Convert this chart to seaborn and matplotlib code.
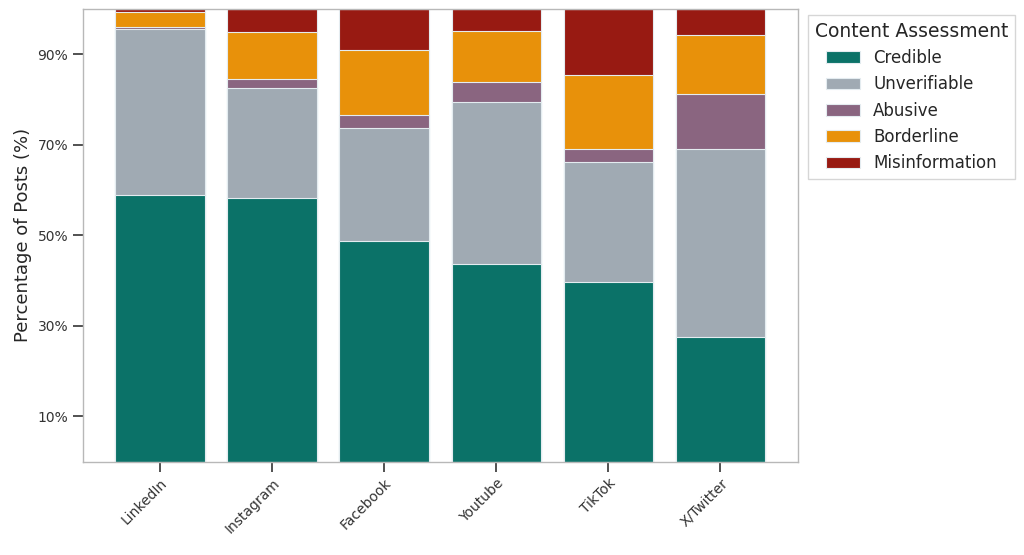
import pandas as pd
import matplotlib
matplotlib.use("Agg")
import matplotlib.pyplot as plt
import seaborn as sns

# values (percent of posts per platform)
platforms = ["LinkedIn", "Instagram", "Facebook", "Youtube", "TikTok", "X/Twitter"]
credible = [58.8, 58.2, 48.8, 43.7, 39.8, 27.5]
unverifiable = [36.8, 24.3, 25.0, 35.7, 26.3, 41.6]
abusive = [0.4, 2.1, 2.8, 4.4, 2.9, 12.1]
borderline = [3.3, 10.4, 14.4, 11.4, 16.5, 13.1]
misinformation = [0.7, 5.0, 9.0, 4.8, 14.5, 5.7]

categories = ["Credible", "Unverifiable", "Abusive", "Borderline", "Misinformation"]
colors = ["#0b7268", "#a0aab3", "#8a6580", "#e8910a", "#981a12"]

df = pd.DataFrame({
    "Platform": platforms,
    "Credible": credible,
    "Unverifiable": unverifiable,
    "Abusive": abusive,
    "Borderline": borderline,
    "Misinformation": misinformation,
})

# cumulative tops for the stacked look
cum = df[categories].cumsum(axis=1)
cum["Platform"] = df["Platform"]

sns.set_theme(style="ticks")
plt.rcParams['font.family'] = ['DejaVu Sans']

fig = plt.figure(figsize=(10.24, 5.55), dpi=100)
ax = fig.add_axes([0.081, 0.168, 0.698, 0.816])

# draw tallest first so lower segments sit on top
for cat, col in reversed(list(zip(categories, colors))):
    sns.barplot(data=cum, x="Platform", y=cat, color=col, label=cat,
                width=0.8, edgecolor="#e4ecf0", linewidth=0.8, ax=ax,
                saturation=1)

ax.set_xlim(-0.69, 5.69)
ax.set_ylim(0, 100)
ax.set_yticks([10, 30, 50, 70, 90])
ax.set_yticklabels(["10%", "30%", "50%", "70%", "90%"], fontsize=10, color="#333333")
ax.set_ylabel("Percentage of Posts (%)", fontsize=13)
ax.set_xlabel("")
plt.setp(ax.get_xticklabels(), rotation=45, ha="right", rotation_mode="anchor",
         fontsize=10, color="#333333")
ax.tick_params(axis="both", direction="out", length=7, width=1.2, color="#333333")

for s in ax.spines.values():
    s.set_visible(True)
    s.set_color("#b8b8b8")
    s.set_linewidth(1)

handles, labels = ax.get_legend_handles_labels()
order = [labels.index(c) for c in categories]
ax.legend([handles[i] for i in order], categories, title="Content Assessment",
          bbox_to_anchor=(1.003, 1.005), loc="upper left", fontsize=12,
          title_fontsize=13.5, frameon=True, edgecolor="#cccccc", fancybox=False)

fig.savefig("out.png", dpi=100)
